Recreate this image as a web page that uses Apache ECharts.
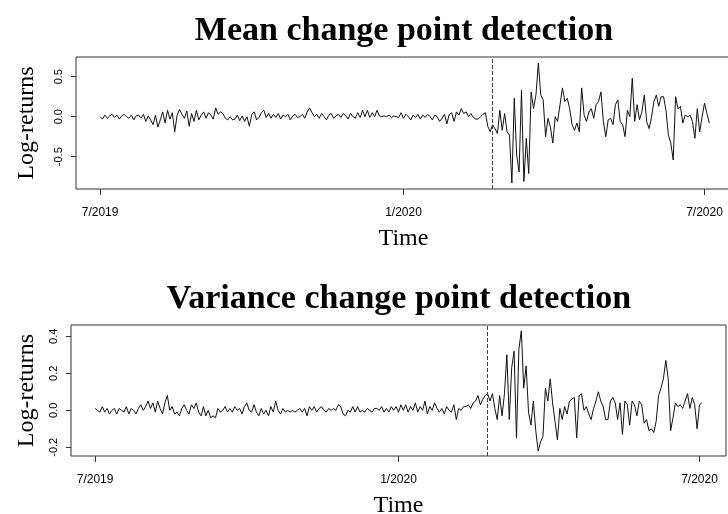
<!DOCTYPE html>
<html>
<head>
<meta charset="utf-8">
<script src="https://cdn.jsdelivr.net/npm/echarts@6/dist/echarts.min.js"></script>
<style>
  html, body { margin: 0; padding: 0; background: #fff; }
  #chart { width: 728px; height: 514px; }
</style>
</head>
<body>
<div id="chart"></div>
<script>
// daily log-returns (trading-day index 0 = 7/2019)
var meanReturns = [
  0.00, -0.03, 0.02, -0.02, 0.01, 0.03, -0.01, 0.02, -0.03, 0.01,
  0.03, 0.00, -0.02, 0.02, -0.04, 0.01, 0.02, -0.02, 0.03, -0.06,
  0.01, -0.04, -0.10, 0.02, -0.13, -0.04, 0.06, -0.08, 0.08, -0.03,
  0.05, -0.19, 0.02, 0.09, 0.03, -0.02, 0.07, -0.12, 0.04, -0.06,
  0.08, -0.04, 0.02, 0.06, -0.02, 0.05, 0.02, -0.03, 0.11, 0.03,
  0.06, 0.04, -0.02, -0.04, 0.00, -0.04, -0.03, 0.02, -0.05, 0.01,
  -0.06, 0.00, -0.12, 0.03, 0.06, -0.04, -0.01, 0.05, 0.08, -0.01,
  0.04, -0.02, 0.03, -0.01, 0.04, -0.03, 0.02, 0.00, 0.03, -0.04,
  0.01, 0.03, -0.01,
  0.00, 0.03, -0.02, 0.06, 0.11, 0.05, 0.00, 0.03, -0.02, 0.04,
  0.00, -0.04, 0.02, 0.04, -0.02, 0.01, 0.03, -0.01, 0.04, 0.01,
  -0.03, 0.04, 0.00, -0.02, 0.05, -0.01, 0.08, 0.00, 0.08, -0.01,
  0.05, 0.00, 0.08, 0.01, 0.00, 0.01, 0.00, 0.02, -0.01, 0.01,
  0.00, -0.01, 0.05, -0.02, 0.03, 0.00, -0.04, 0.02, -0.01, 0.03,
  -0.03, 0.02, -0.01, 0.03, 0.00, -0.04, 0.02, 0.00, -0.06, -0.02,
  0.03, -0.09, 0.03, 0.05, -0.06, 0.06, 0.02, 0.10, 0.04, 0.06,
  0.00, 0.04, -0.01, -0.03, -0.03, 0.00, 0.03, 0.05, -0.12, -0.19,
  -0.10, -0.15, -0.21, 0.08, -0.17, 0.04, -0.19, -0.23, -0.83, 0.23,
  -0.48, -0.69, 0.33, -0.81, -0.27, -0.71, 0.31, 0.10, 0.27, 0.67,
  0.27, 0.21, -0.25, -0.02, -0.13, -0.33, 0.00, -0.06, 0.15, 0.36,
  0.19, 0.23, 0.10, -0.10, -0.17, -0.08, -0.19, 0.36, 0.02, -0.06,
  0.06, 0.10, -0.02, 0.15, 0.19, 0.31, -0.06, -0.25, -0.04, -0.02,
  -0.10, 0.15, 0.21, -0.06, -0.10, -0.25, 0.08, 0.00, 0.48, -0.06,
  0.15, -0.04, 0.06, 0.27, -0.06, -0.15, 0.00, 0.19, 0.27, 0.13,
  0.25, 0.25, 0.08, -0.23, -0.33, -0.54, 0.25, 0.10, 0.13, -0.08,
  0.02, 0.00, 0.02, -0.06, -0.27, 0.10, -0.19, 0.00, 0.17, 0.04,
  -0.08
];

var varianceReturns = [
  0.01, 0.00, -0.01, 0.02, -0.01, 0.01, -0.02, 0.00, 0.01, -0.02,
  0.01, 0.00, -0.01, 0.02, -0.02, 0.01, 0.00, -0.02, 0.01, 0.03,
  0.00, 0.02, 0.05, 0.01, 0.04, -0.01, 0.05, 0.01, -0.02, 0.04,
  0.08, 0.00, 0.02, -0.02, -0.01, -0.03, 0.01, 0.03, 0.00, -0.02,
  0.03, 0.01, 0.04, -0.01, -0.03, 0.02, -0.03, 0.00, -0.04, -0.03,
  -0.04, 0.01, -0.01, 0.00, 0.02, -0.01, 0.01, -0.01, 0.02, 0.00,
  0.01, -0.02, 0.02, 0.04, 0.00, -0.01, 0.03, -0.01, -0.03, 0.01,
  -0.02, 0.00, -0.03, 0.02, -0.01, 0.05, 0.00, -0.02, 0.01, -0.01,
  0.00, -0.01, 0.00, -0.01,
  0.00, 0.01, -0.01, 0.01, -0.03, 0.02, 0.00, 0.02, -0.01, 0.01,
  0.02, 0.00, -0.01, 0.01, 0.00, 0.01, 0.00, 0.03, 0.02, -0.02,
  -0.03, 0.00, -0.01, 0.02, -0.01, 0.02, -0.01, 0.00, -0.01, 0.01,
  0.00, -0.01, 0.01, 0.01, 0.00, 0.02, -0.01, 0.01, -0.01, 0.02,
  0.00, 0.02, -0.01, 0.03, 0.00, 0.03, -0.01, 0.02, 0.00, 0.04,
  -0.01, 0.02, 0.00, 0.05, -0.02, 0.02, 0.00, 0.04, 0.01, -0.01,
  0.01, -0.02, 0.02, 0.00, -0.01, 0.03, -0.05, 0.01, 0.00, 0.02,
  0.02, 0.03, 0.01, 0.04, 0.05, 0.08, 0.03, 0.06, 0.08,
  0.09, 0.05, 0.09, 0.01, -0.05, 0.08, -0.03, 0.09, 0.30, -0.05,
  0.23, 0.32, -0.15, 0.33, 0.43, 0.12, 0.24, -0.01, -0.08, 0.05,
  -0.11, -0.22, -0.17, -0.14, 0.12, 0.05, 0.17, 0.04, -0.06, -0.16,
  0.01, -0.05, 0.02, -0.02, 0.05, 0.06, 0.07, -0.15, 0.08, 0.09,
  0.00, 0.02, -0.02, -0.05, 0.01, 0.05, 0.10, 0.05, 0.02, -0.05,
  -0.05, 0.05, 0.07, 0.04, -0.05, 0.04, -0.13, 0.05, 0.03, -0.08,
  0.05, 0.03, -0.03, 0.05, 0.03, -0.07, -0.05, -0.11, -0.10, -0.12,
  -0.06, 0.08, 0.12, 0.17, 0.27, 0.17, -0.11, -0.04, 0.04, 0.02,
  0.03, 0.01, 0.05, 0.09, 0.01, 0.07, 0.03, -0.10, 0.03, 0.04
];

var tickDays = [0, 126, 251];
var tickLabels = ['7/2019', '1/2020', '7/2020'];
var changePoint = 163;
var meanTicks = [-0.5, 0, 0.5];
var varianceTicks = [-0.2, 0, 0.2, 0.4];

function toPairs(arr) {
  return arr.map(function (v, i) { return [i, v]; });
}

function xAxisFor(gridIndex) {
  return {
    type: 'value',
    gridIndex: gridIndex,
    position: 'bottom',
    min: -10,
    max: 262,
    name: 'Time',
    nameLocation: 'middle',
    nameGap: 38,
    nameTextStyle: { fontFamily: 'Liberation Serif', fontSize: 24, color: '#000' },
    axisLine: { show: false, onZero: false },
    splitLine: { show: false },
    axisTick: { show: true, inside: false, length: 6, customValues: tickDays, lineStyle: { color: '#333' } },
    axisLabel: {
      customValues: tickDays,
      margin: 18,
      fontFamily: 'Liberation Sans',
      fontSize: 12,
      color: '#000',
      formatter: function (v) { return tickLabels[tickDays.indexOf(v)]; }
    }
  };
}

function yAxisFor(gridIndex, lo, hi, ticks, gap) {
  return {
    type: 'value',
    gridIndex: gridIndex,
    position: 'left',
    min: lo,
    max: hi,
    name: 'Log-returns',
    nameLocation: 'middle',
    nameRotate: 90,
    nameGap: gap,
    nameTextStyle: { fontFamily: 'Liberation Serif', fontSize: 24, color: '#000' },
    axisLine: { show: false, onZero: false },
    splitLine: { show: false },
    axisTick: { show: true, length: 5, customValues: ticks, lineStyle: { color: '#333' } },
    axisLabel: {
      customValues: ticks,
      rotate: 90,
      margin: 12,
      fontFamily: 'Liberation Sans',
      fontSize: 11,
      color: '#000',
      formatter: function (v) { return v.toFixed(1); }
    }
  };
}

function lineSeries(idx, arr) {
  return {
    type: 'line',
    xAxisIndex: idx,
    yAxisIndex: idx,
    data: toPairs(arr),
    showSymbol: false,
    symbol: 'none',
    lineStyle: { color: '#111', width: 1 },
    markLine: {
      silent: true,
      symbol: 'none',
      label: { show: false },
      lineStyle: { color: '#444', type: 'dashed', width: 1 },
      data: [{ xAxis: changePoint }]
    }
  };
}

var chart = echarts.init(document.getElementById('chart'));
chart.setOption({
  animation: false,
  backgroundColor: '#fff',
  title: [
    {
      text: 'Mean change point detection',
      left: 404, top: 14, textAlign: 'center', padding: 0,
      textStyle: { fontFamily: 'Liberation Serif', fontWeight: 'bold', fontSize: 34, color: '#000' }
    },
    {
      text: 'Variance change point detection',
      left: 399, top: 282, textAlign: 'center', padding: 0,
      textStyle: { fontFamily: 'Liberation Serif', fontWeight: 'bold', fontSize: 34, color: '#000' }
    }
  ],
  grid: [
    { left: 76, top: 57, width: 655, height: 132, outerBoundsMode: 'none', show: true, borderColor: '#333', borderWidth: 1, backgroundColor: 'transparent' },
    { left: 71, top: 325, width: 655, height: 131, outerBoundsMode: 'none', show: true, borderColor: '#333', borderWidth: 1, backgroundColor: 'transparent' }
  ],
  xAxis: [xAxisFor(0), xAxisFor(1)],
  yAxis: [
    yAxisFor(0, -0.904, 0.746, meanTicks, 37),
    yAxisFor(1, -0.247, 0.461, varianceTicks, 32)
  ],
  series: [lineSeries(0, meanReturns), lineSeries(1, varianceReturns)]
});
</script>
</body>
</html>
